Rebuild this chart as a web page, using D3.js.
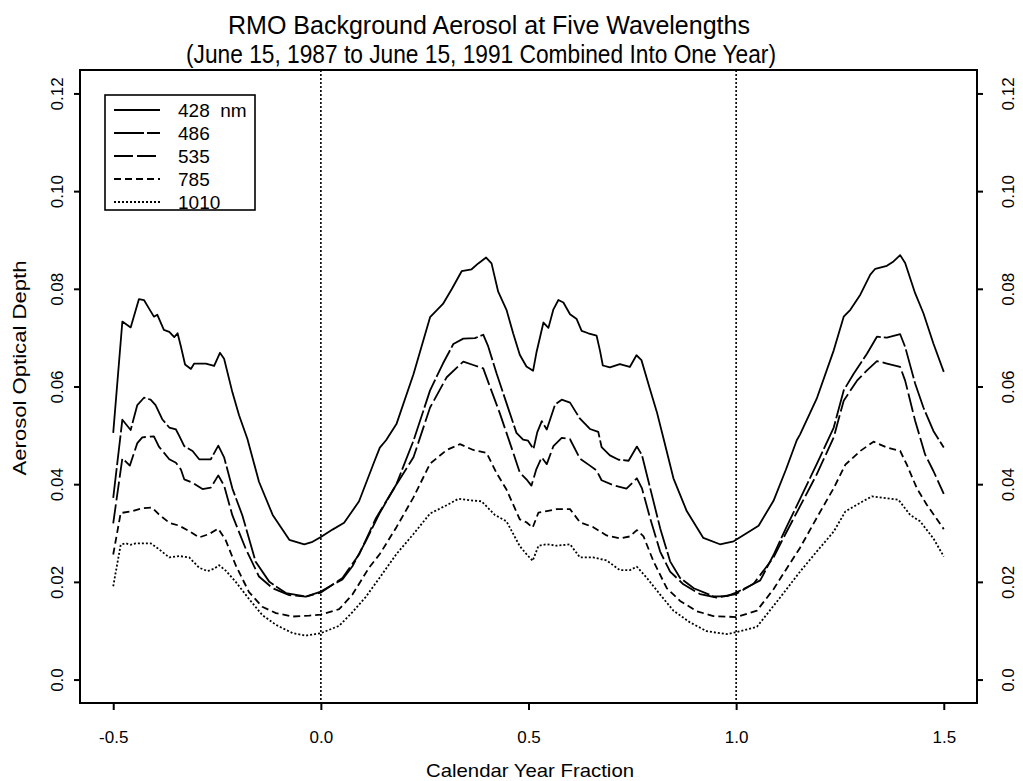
<!DOCTYPE html>
<html>
<head>
<meta charset="utf-8">
<script src="https://cdn.jsdelivr.net/npm/d3@7/dist/d3.min.js"></script>
<style>
  html, body { margin: 0; padding: 0; background: #fff; }
  svg { display: block; }
  text { font-family: "Liberation Sans", Arial, Helvetica, sans-serif; fill: #000; }
</style>
</head>
<body>
<svg id="chart" width="1023" height="781"></svg>
<script>
// ---------------- DATA ----------------
const titleLines = ["RMO Background Aerosol at Five Wavelengths",
                    "(June 15, 1987 to June 15, 1991 Combined Into One Year)"];
const xLabel = "Calendar Year Fraction";
const yLabel = "Aerosol Optical Depth";
const xTicks = [-0.5, 0.0, 0.5, 1.0, 1.5];
const xTickLabels = ["-0.5", "0.0", "0.5", "1.0", "1.5"];
const yTicks = [0.0, 0.02, 0.04, 0.06, 0.08, 0.10, 0.12];
const yTickLabels = ["0.0", "0.02", "0.04", "0.06", "0.08", "0.10", "0.12"];
const refLines = [0.0, 1.0];
const seriesNames = ["428 nm", "486", "535", "785", "1010"];

const s428 = [
 [-0.50,0.0505],[-0.478,0.0733],[-0.458,0.0721],[-0.438,0.0779],[-0.426,0.0777],[-0.414,0.0760],
 [-0.402,0.0743],[-0.394,0.0747],[-0.378,0.0716],[-0.365,0.0712],[-0.353,0.0701],[-0.345,0.0709],
 [-0.337,0.0682],[-0.327,0.0645],[-0.313,0.0636],[-0.305,0.0647],[-0.277,0.0647],[-0.257,0.0642],
 [-0.243,0.0669],[-0.233,0.0657],[-0.213,0.0588],[-0.197,0.0541],[-0.177,0.0493],[-0.149,0.0405],
 [-0.116,0.0337],[-0.076,0.0286],[-0.040,0.0277],[-0.020,0.0282],[0.000,0.0292],[0.028,0.0307],
 [0.056,0.0321],[0.092,0.0365],[0.129,0.0447],[0.142,0.0475],[0.157,0.0490],[0.182,0.0523],
 [0.223,0.0625],[0.263,0.0742],[0.294,0.0769],[0.315,0.0799],[0.339,0.0836],[0.363,0.0840],
 [0.379,0.0852],[0.398,0.0864],[0.411,0.0852],[0.427,0.0794],[0.447,0.0757],[0.463,0.0709],
 [0.479,0.0665],[0.495,0.0641],[0.511,0.0632],[0.519,0.0669],[0.536,0.0731],[0.548,0.0720],
 [0.560,0.0758],[0.572,0.0777],[0.584,0.0772],[0.600,0.0748],[0.616,0.0738],[0.628,0.0714],
 [0.644,0.0709],[0.664,0.0704],[0.672,0.0674],[0.679,0.0643],[0.696,0.0639],[0.720,0.0646],
 [0.744,0.0640],[0.760,0.0664],[0.772,0.0654],[0.792,0.0596],[0.809,0.0548],[0.825,0.0494],
 [0.849,0.0412],[0.881,0.0345],[0.921,0.0290],[0.961,0.0277],[0.994,0.0283],[1.026,0.0300],
 [1.054,0.0315],[1.090,0.0366],[1.120,0.0430],[1.146,0.0490],[1.154,0.0502],[1.194,0.0575],
 [1.235,0.0674],[1.259,0.0743],[1.275,0.0757],[1.299,0.0788],[1.323,0.0829],[1.335,0.0841],
 [1.363,0.0847],[1.379,0.0856],[1.395,0.0869],[1.407,0.0853],[1.431,0.0791],[1.451,0.0750],
 [1.475,0.0688],[1.500,0.0630]
];
const s486 = [
 [-0.50,0.0372],[-0.478,0.0532],[-0.458,0.0511],[-0.442,0.0562],[-0.426,0.0577],[-0.410,0.0573],
 [-0.398,0.0562],[-0.382,0.0533],[-0.365,0.0516],[-0.349,0.0512],[-0.341,0.0499],[-0.329,0.0478],
 [-0.309,0.0468],[-0.293,0.0451],[-0.265,0.0451],[-0.247,0.0479],[-0.233,0.0455],[-0.213,0.0391],
 [-0.189,0.0336],[-0.157,0.0241],[-0.124,0.0200],[-0.084,0.0177],[-0.036,0.0170],[0.000,0.0180],
 [0.028,0.0194],[0.052,0.0205],[0.076,0.0232],[0.108,0.0283],[0.141,0.0340],[0.182,0.0400],
 [0.223,0.0489],[0.263,0.0592],[0.294,0.0647],[0.319,0.0687],[0.343,0.0698],[0.371,0.0699],
 [0.391,0.0706],[0.403,0.0682],[0.423,0.0627],[0.447,0.0566],[0.471,0.0505],[0.487,0.0491],
 [0.499,0.0489],[0.512,0.0472],[0.521,0.0506],[0.532,0.0529],[0.544,0.0512],[0.564,0.0563],
 [0.580,0.0573],[0.600,0.0567],[0.624,0.0534],[0.648,0.0513],[0.668,0.0507],[0.676,0.0476],
 [0.696,0.0459],[0.717,0.0450],[0.741,0.0448],[0.761,0.0477],[0.773,0.0460],[0.793,0.0392],
 [0.817,0.0310],[0.841,0.0242],[0.865,0.0208],[0.898,0.0187],[0.946,0.0170],[0.978,0.0171],
 [1.000,0.0178],[1.026,0.0189],[1.058,0.0203],[1.090,0.0255],[1.120,0.0310],[1.154,0.0370],
 [1.194,0.0441],[1.235,0.0516],[1.259,0.0592],[1.283,0.0626],[1.315,0.0667],[1.339,0.0702],
 [1.363,0.0700],[1.395,0.0707],[1.407,0.0681],[1.431,0.0606],[1.451,0.0557],[1.475,0.0509],
 [1.500,0.0475]
];
const s535 = [
 [-0.50,0.0320],[-0.478,0.0453],[-0.460,0.0438],[-0.442,0.0484],[-0.430,0.0496],[-0.402,0.0498],
 [-0.390,0.0477],[-0.365,0.0451],[-0.349,0.0444],[-0.337,0.0430],[-0.329,0.0410],[-0.309,0.0403],
 [-0.285,0.0390],[-0.265,0.0393],[-0.247,0.0418],[-0.233,0.0397],[-0.213,0.0336],[-0.181,0.0268],
 [-0.149,0.0211],[-0.116,0.0187],[-0.076,0.0173],[-0.036,0.0170],[0.000,0.0178],[0.052,0.0208],
 [0.092,0.0256],[0.133,0.0331],[0.173,0.0387],[0.223,0.0455],[0.263,0.0557],[0.303,0.0619],
 [0.343,0.0651],[0.367,0.0644],[0.391,0.0637],[0.407,0.0600],[0.431,0.0545],[0.463,0.0465],
 [0.479,0.0424],[0.495,0.0410],[0.507,0.0397],[0.519,0.0431],[0.532,0.0455],[0.544,0.0441],
 [0.560,0.0478],[0.580,0.0495],[0.600,0.0492],[0.624,0.0452],[0.648,0.0438],[0.664,0.0428],
 [0.676,0.0408],[0.704,0.0398],[0.736,0.0391],[0.761,0.0412],[0.773,0.0392],[0.793,0.0330],
 [0.817,0.0262],[0.841,0.0221],[0.873,0.0195],[0.913,0.0175],[0.953,0.0168],[1.000,0.0175],
 [1.042,0.0196],[1.090,0.0250],[1.120,0.0300],[1.154,0.0355],[1.194,0.0420],[1.235,0.0496],
 [1.259,0.0571],[1.291,0.0612],[1.315,0.0633],[1.339,0.0652],[1.363,0.0647],[1.395,0.0640],
 [1.407,0.0612],[1.431,0.0530],[1.455,0.0461],[1.475,0.0427],[1.500,0.0380]
];
const s785 = [
 [-0.50,0.0256],[-0.482,0.0341],[-0.458,0.0344],[-0.430,0.0351],[-0.406,0.0352],[-0.390,0.0338],
 [-0.365,0.0321],[-0.341,0.0315],[-0.317,0.0304],[-0.293,0.0291],[-0.269,0.0298],[-0.247,0.0309],
 [-0.229,0.0285],[-0.205,0.0234],[-0.173,0.0179],[-0.141,0.0149],[-0.108,0.0136],[-0.068,0.0129],
 [-0.028,0.0131],[0.000,0.0133],[0.044,0.0144],[0.076,0.0174],[0.116,0.0229],[0.142,0.0257],
 [0.182,0.0312],[0.223,0.0373],[0.263,0.0442],[0.303,0.0470],[0.335,0.0482],[0.367,0.0470],
 [0.399,0.0464],[0.423,0.0423],[0.447,0.0389],[0.479,0.0328],[0.495,0.0322],[0.510,0.0311],
 [0.524,0.0342],[0.544,0.0345],[0.568,0.0349],[0.600,0.0349],[0.624,0.0322],[0.656,0.0312],
 [0.688,0.0295],[0.720,0.0289],[0.744,0.0293],[0.761,0.0306],[0.777,0.0293],[0.801,0.0242],
 [0.833,0.0187],[0.865,0.0161],[0.905,0.0140],[0.945,0.0130],[1.000,0.0128],[1.050,0.0141],
 [1.090,0.0185],[1.120,0.0225],[1.154,0.0270],[1.194,0.0331],[1.235,0.0392],[1.263,0.0440],
 [1.299,0.0468],[1.331,0.0487],[1.363,0.0475],[1.395,0.0468],[1.411,0.0440],[1.435,0.0392],
 [1.459,0.0358],[1.500,0.0308]
];
const s1010 = [
 [-0.50,0.0191],[-0.482,0.0276],[-0.470,0.0279],[-0.458,0.0276],[-0.446,0.0279],[-0.410,0.0279],
 [-0.390,0.0267],[-0.365,0.0250],[-0.341,0.0253],[-0.317,0.0250],[-0.293,0.0229],[-0.273,0.0222],
 [-0.257,0.0227],[-0.245,0.0234],[-0.229,0.0223],[-0.205,0.0200],[-0.173,0.0165],[-0.141,0.0132],
 [-0.108,0.0112],[-0.068,0.0095],[-0.036,0.0090],[0.000,0.0095],[0.044,0.0110],[0.076,0.0138],
 [0.108,0.0169],[0.142,0.0209],[0.182,0.0257],[0.223,0.0298],[0.263,0.0340],[0.303,0.0357],
 [0.331,0.0370],[0.359,0.0367],[0.387,0.0365],[0.419,0.0337],[0.447,0.0324],[0.479,0.0273],
 [0.495,0.0257],[0.510,0.0243],[0.524,0.0274],[0.544,0.0277],[0.568,0.0274],[0.600,0.0277],
 [0.624,0.0250],[0.656,0.0250],[0.688,0.0244],[0.720,0.0224],[0.744,0.0224],[0.761,0.0231],
 [0.785,0.0208],[0.817,0.0174],[0.849,0.0141],[0.889,0.0117],[0.929,0.0099],[0.978,0.0093],
 [1.000,0.0097],[1.050,0.0108],[1.106,0.0168],[1.154,0.0221],[1.194,0.0262],[1.235,0.0303],
 [1.263,0.0344],[1.299,0.0362],[1.327,0.0375],[1.355,0.0372],[1.391,0.0368],[1.419,0.0337],
 [1.443,0.0324],[1.475,0.0289],[1.500,0.0252]
];
const seriesData = [s428, s486, s535, s785, s1010];

// ---------------- STYLE / LAYOUT ----------------
const dashes = [null, "30,3", "19,4", "7,4", "2,2"];
const frame = {left: 80, right: 977, top: 70, bottom: 703};
const svg = d3.select("#chart");

const x = d3.scaleLinear().domain([-0.58, 1.58]).range([frame.left, frame.right]);
const y = d3.scaleLinear().domain([-0.0048, 0.1248]).range([frame.bottom, frame.top]);

// title
const titleSpec = [{cx: 489, by: 34, len: 522}, {cx: 481, by: 63, len: 590}];
titleLines.forEach((t, i) => {
  svg.append("text")
    .attr("x", titleSpec[i].cx).attr("y", titleSpec[i].by)
    .attr("text-anchor", "middle")
    .attr("font-size", 25)
    .attr("textLength", titleSpec[i].len)
    .attr("lengthAdjust", "spacingAndGlyphs")
    .text(t);
});

// reference dotted vertical lines
svg.append("g").selectAll("line").data(refLines).join("line")
  .attr("x1", d => x(d)).attr("x2", d => x(d))
  .attr("y1", frame.top).attr("y2", frame.bottom)
  .attr("stroke", "#000").attr("stroke-width", 1.6)
  .attr("stroke-dasharray", "2,2");

// series
const line = d3.line().x(d => x(d[0])).y(d => y(d[1]));
svg.append("g").selectAll("path").data(seriesData).join("path")
  .attr("d", d => line(d))
  .attr("fill", "none").attr("stroke", "#000")
  .attr("stroke-width", 1.8)
  .attr("stroke-linejoin", "round")
  .attr("stroke-dasharray", (d, i) => dashes[i]);

// frame
svg.append("rect")
  .attr("x", frame.left).attr("y", frame.top)
  .attr("width", frame.right - frame.left).attr("height", frame.bottom - frame.top)
  .attr("fill", "none").attr("stroke", "#000").attr("stroke-width", 2);

// axes
const fontTick = 17;
const bottom = svg.append("g").attr("transform", `translate(0,${frame.bottom})`)
  .call(d3.axisBottom(x).tickValues(xTicks).tickFormat((d, i) => xTickLabels[i]).tickSize(7).tickPadding(24));
bottom.select(".domain").remove();
bottom.selectAll("line").attr("stroke-width", 2);
bottom.selectAll("text").attr("font-size", fontTick).attr("font-family", null).attr("dy", null).attr("y", 40);

const left = svg.append("g").attr("transform", `translate(${frame.left},0)`)
  .call(d3.axisLeft(y).tickValues(yTicks).tickFormat((d, i) => yTickLabels[i]).tickSize(6));
left.select(".domain").remove();
left.selectAll("line").attr("stroke-width", 2);
left.selectAll("text")
  .attr("font-size", fontTick).attr("font-family", null)
  .attr("x", null).attr("dy", null).attr("text-anchor", "middle")
  .attr("transform", "translate(-17,0) rotate(-90)");

const right = svg.append("g").attr("transform", `translate(${frame.right},0)`)
  .call(d3.axisRight(y).tickValues(yTicks).tickFormat((d, i) => yTickLabels[i]).tickSize(6));
right.select(".domain").remove();
right.selectAll("line").attr("stroke-width", 2);
right.selectAll("text")
  .attr("font-size", fontTick).attr("font-family", null)
  .attr("x", null).attr("dy", null).attr("text-anchor", "middle")
  .attr("transform", "translate(37,0) rotate(-90)");

// axis labels
svg.append("text")
  .attr("x", 530).attr("y", 777).attr("text-anchor", "middle")
  .attr("font-size", 19).attr("textLength", 208).attr("lengthAdjust", "spacingAndGlyphs")
  .text(xLabel);
svg.append("text")
  .attr("transform", "translate(26,368) rotate(-90)")
  .attr("text-anchor", "middle")
  .attr("font-size", 19).attr("textLength", 215).attr("lengthAdjust", "spacingAndGlyphs")
  .text(yLabel);

// legend
const lg = svg.append("g").attr("transform", "translate(105,95)");
lg.append("rect").attr("width", 150).attr("height", 115)
  .attr("fill", "#fff").attr("stroke", "#000").attr("stroke-width", 1.6);
const rows = lg.selectAll("g.row").data(seriesNames).join("g")
  .attr("transform", (d, i) => `translate(0,${15 + i * 23})`);
rows.append("line").attr("x1", 9).attr("x2", 55).attr("y1", 0).attr("y2", 0)
  .attr("stroke", "#000").attr("stroke-width", 1.8)
  .attr("stroke-dasharray", (d, i) => dashes[i]);
rows.append("text").attr("x", 73).attr("y", 7).attr("font-size", 19)
  .attr("xml:space", "preserve")
  .text(d => d.replace(" ", "  "));
</script>
</body>
</html>
